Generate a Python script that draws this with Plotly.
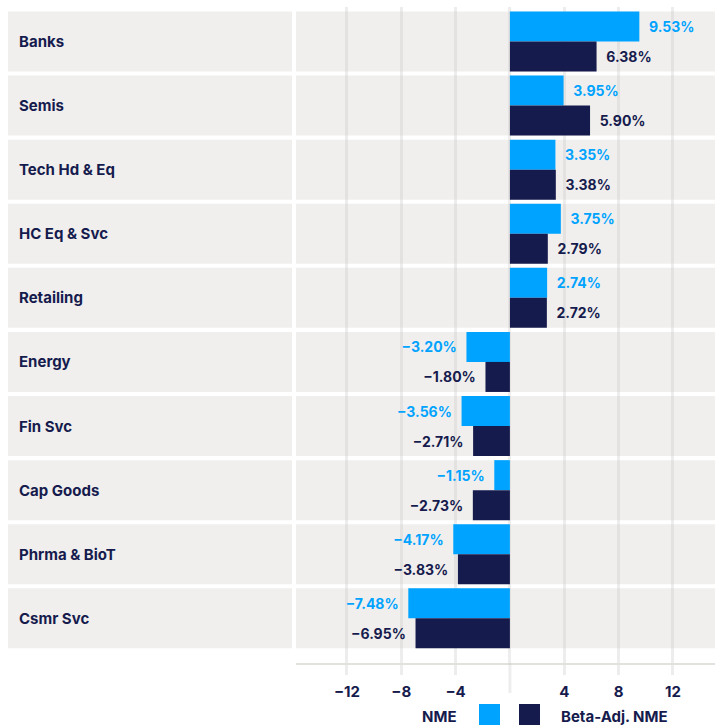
import plotly.graph_objects as go

categories = ["Banks", "Semis", "Tech Hd & Eq", "HC Eq & Svc", "Retailing",
              "Energy", "Fin Svc", "Cap Goods", "Phrma & BioT", "Csmr Svc"]
nme = [9.53, 3.95, 3.35, 3.75, 2.74, -3.20, -3.56, -1.15, -4.17, -7.48]
beta_adj = [6.38, 5.90, 3.38, 2.79, 2.72, -1.80, -2.71, -2.73, -3.83, -6.95]
tick_vals = [-12, -8, -4, 4, 8, 12]
tick_text = ["\u221212", "\u22128", "\u22124", "4", "8", "12"]
series_names = ["NME", "Beta-Adj. NME"]

BLUE = "#00A3FF"
NAVY = "#161B4D"
BAND = "#F0EFEE"
GRID = "rgba(200,200,200,0.32)"
FONT = "Inter"

W, H = 715, 727
ML, MR, MT, MB = 296, 0, 7, 64
PW, PH = W - ML - MR, H - MT - MB


def fmt(v):
    s = f"{v:.2f}%".replace("-", "\u2212")
    pad = "\u00a0\u00a0"
    return pad + s if v >= 0 else s + pad


def px_to_paper_x(px):
    return (px - ML) / PW


def px_to_paper_y(py):
    return (H - MB - py) / PH


fig = go.Figure()
for name, vals, col in [(series_names[0], nme, BLUE), (series_names[1], beta_adj, NAVY)]:
    fig.add_trace(go.Bar(
        x=vals, y=categories, orientation="h", name=name,
        marker=dict(color=col, line=dict(width=0)),
        text=[fmt(v) for v in vals], textposition="outside",
        textfont=dict(family=FONT, size=14, color=col, weight="bold"),
        constraintext="none", cliponaxis=False, showlegend=False,
        hoverinfo="skip",
    ))

shapes = []
annotations = []
half = 0.468
for i, cat in enumerate(categories):
    shapes.append(dict(type="rect", xref="paper", yref="y",
                       x0=px_to_paper_x(8), x1=px_to_paper_x(292),
                       y0=i - half, y1=i + half,
                       fillcolor=BAND, line=dict(width=0), layer="below"))
    shapes.append(dict(type="rect", xref="paper", yref="y",
                       x0=0, x1=1, y0=i - half, y1=i + half,
                       fillcolor=BAND, line=dict(width=0), layer="below"))
    annotations.append(dict(xref="paper", yref="y", x=px_to_paper_x(17), y=cat,
                            text=cat, showarrow=False, xanchor="left", yanchor="middle",
                            font=dict(family=FONT, size=15, color=NAVY, weight="bold")))

shapes.append(dict(type="line", xref="x", yref="paper", x0=0, x1=0,
                   y0=px_to_paper_y(693), y1=0,
                   line=dict(color=GRID, width=3)))

ly0, ly1 = px_to_paper_y(725), px_to_paper_y(704)
shapes.append(dict(type="rect", xref="paper", yref="paper",
                   x0=px_to_paper_x(479), x1=px_to_paper_x(500), y0=ly0, y1=ly1,
                   fillcolor=BLUE, line=dict(width=0)))
shapes.append(dict(type="rect", xref="paper", yref="paper",
                   x0=px_to_paper_x(519), x1=px_to_paper_x(540), y0=ly0, y1=ly1,
                   fillcolor=NAVY, line=dict(width=0)))
annotations.append(dict(xref="paper", yref="paper", x=px_to_paper_x(459), y=px_to_paper_y(716),
                        text=series_names[0], showarrow=False, xanchor="right", yanchor="middle",
                        font=dict(family=FONT, size=15, color=NAVY, weight="bold")))
annotations.append(dict(xref="paper", yref="paper", x=px_to_paper_x(559), y=px_to_paper_y(716),
                        text=series_names[1], showarrow=False, xanchor="left", yanchor="middle",
                        font=dict(family=FONT, size=15, color=NAVY, weight="bold")))

fig.update_layout(
    width=W, height=H,
    margin=dict(l=ML, r=MR, t=MT, b=MB, pad=0),
    paper_bgcolor="white", plot_bgcolor="white",
    barmode="group", bargap=0.064, bargroupgap=0,
    shapes=shapes, annotations=annotations,
    xaxis=dict(range=[-15.75, 15.1], tickvals=tick_vals, ticktext=tick_text,
               showgrid=True, gridcolor=GRID, gridwidth=3,
               zeroline=True, zerolinecolor=GRID, zerolinewidth=3,
               ticks="outside", ticklen=10, tickwidth=3, tickcolor=GRID,
               showline=True, linecolor="#E2E1DE", linewidth=2,
               layer="above traces", ticklabelstandoff=4,
               tickfont=dict(family=FONT, size=15, color=NAVY, weight="bold"),
               fixedrange=True),
    yaxis=dict(range=[9.697, -0.538], showticklabels=False, showgrid=False,
               zeroline=False, ticks="", fixedrange=True),
    font=dict(family=FONT, color=NAVY),
    hovermode=False,
)

fig.write_html(
    "out.html",
    config={"displayModeBar": False, "staticPlot": True},
    post_script="document.body.style.margin='0';document.body.style.overflow='hidden';",
)
